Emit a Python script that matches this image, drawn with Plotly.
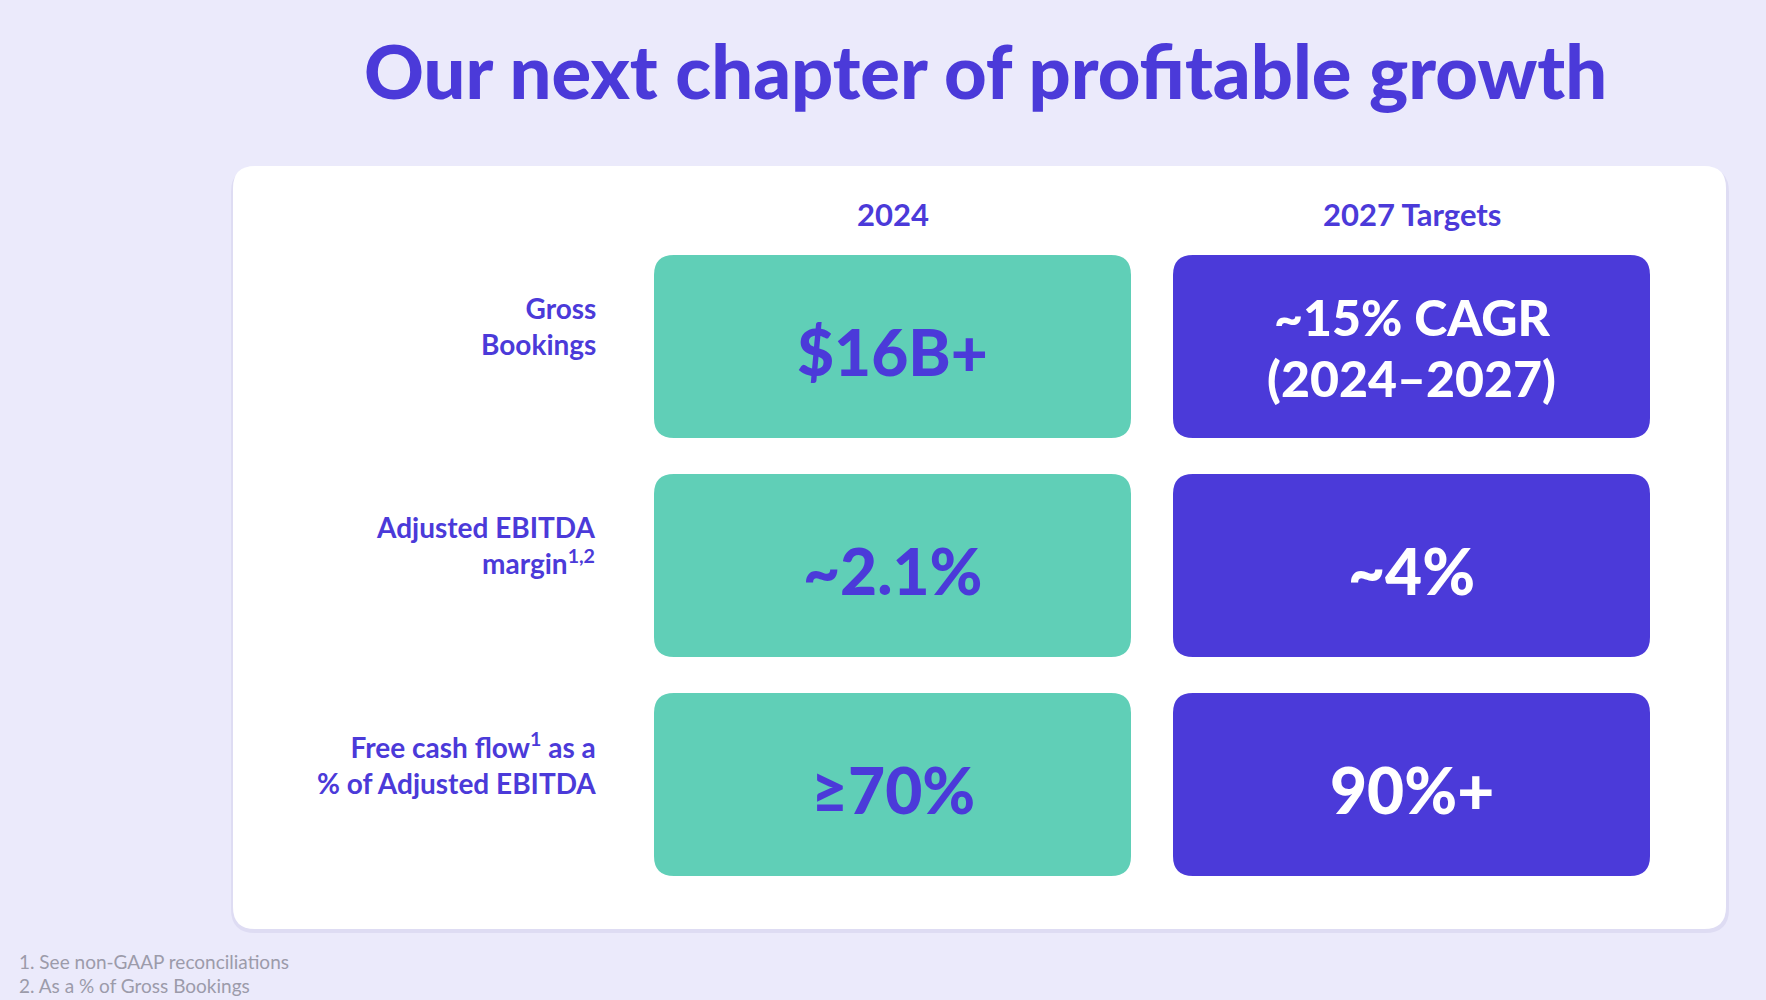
import plotly.graph_objects as go

# slide text / values
title = "Our next chapter of profitable growth"
columns = ["2024", "2027 Targets"]
metrics = [
    "Gross<br>Bookings",
    "Adjusted EBITDA<br>margin<sup>1,2</sup>",
    "Free cash flow<sup>1</sup> as a<br>% of Adjusted EBITDA",
]
values_2024 = ["$16B+", "~2.1%", "≥70%"]
targets_2027 = ["~15% CAGR<br>(2024–2027)", "~4%", "90%+"]
footnotes = ["1. See non-GAAP reconciliations", "2. As a % of Gross Bookings"]

# colours
BG = "#EBEAFB"
PURPLE = "#4B3AD9"
GREEN = "#60CFB7"
FOOT = "#9C9BAA"
FONT = "Lato"

W, H = 1766, 1000

# layout (pixel space)
col_x0 = [654, 1173]
box_w = 477
row_y0 = [255, 474, 693]
box_h = 183


def rounded(x0, y0, x1, y1, r):
    return (f"M{x0+r},{y0} L{x1-r},{y0} Q{x1},{y0} {x1},{y0+r} "
            f"L{x1},{y1-r} Q{x1},{y1} {x1-r},{y1} L{x0+r},{y1} "
            f"Q{x0},{y1} {x0},{y1-r} L{x0},{y0+r} Q{x0},{y0} {x0+r},{y0} Z")


shapes = []
annotations = []

# card shadow + card
shapes.append(dict(type="path", path=rounded(231, 168, 1729, 933, 24),
                   fillcolor="#DEDCF3", line=dict(width=0), layer="below"))
shapes.append(dict(type="path", path=rounded(233, 166, 1726, 929, 22),
                   fillcolor="white", line=dict(width=0), layer="below"))

# title
annotations.append(dict(x=985, y=70, text=title, showarrow=False,
                        xanchor="center", yanchor="middle",
                        font=dict(family=FONT, size=74, color=PURPLE, weight=900)))

# column headers
for c, name in enumerate(columns):
    annotations.append(dict(x=col_x0[c] + box_w / 2, y=214, text=name,
                            showarrow=False, xanchor="center", yanchor="middle",
                            font=dict(family=FONT, size=31, color=PURPLE, weight=700)))

col_vals = [values_2024, targets_2027]
fills = [GREEN, PURPLE]
txt_cols = [PURPLE, "white"]

for r, label in enumerate(metrics):
    yc = row_y0[r] + box_h / 2
    annotations.append(dict(x=598, y=yc - 21, text=label, showarrow=False,
                            xanchor="right", yanchor="middle", align="right",
                            font=dict(family=FONT, size=28, color=PURPLE, weight=700)))
    for c in range(2):
        x0 = col_x0[c]
        y0 = row_y0[r]
        shapes.append(dict(type="path", path=rounded(x0, y0, x0 + box_w, y0 + box_h, 20),
                           fillcolor=fills[c], line=dict(width=0), layer="below"))
        lines = col_vals[c][r].split("<br>")
        size = 50 if len(lines) > 1 else 64
        step = 61
        for k, line in enumerate(lines):
            yl = yc + 5 - 4 * (len(lines) > 1) + (k - (len(lines) - 1) / 2) * step
            annotations.append(dict(x=x0 + box_w / 2, y=yl, text=line,
                                    showarrow=False, xanchor="center", yanchor="middle",
                                    font=dict(family=FONT, size=size, color=txt_cols[c],
                                              weight=900)))

# footnotes
for i, note in enumerate(footnotes):
    annotations.append(dict(x=17, y=961 + i * 24, text=note, showarrow=False,
                            xanchor="left", yanchor="middle",
                            font=dict(family=FONT, size=19, color=FOOT)))

fig = go.Figure()
fig.update_layout(
    width=W, height=H,
    margin=dict(l=0, r=0, t=0, b=0),
    paper_bgcolor=BG, plot_bgcolor=BG,
    showlegend=False,
    xaxis=dict(range=[0, W], visible=False, fixedrange=True),
    yaxis=dict(range=[H, 0], visible=False, fixedrange=True),
    shapes=shapes,
    annotations=annotations,
)

fig.write_html("out.html", config={"displayModeBar": False},
               post_script="document.body.style.margin='0';"
                           "document.body.style.background='" + BG + "';")
